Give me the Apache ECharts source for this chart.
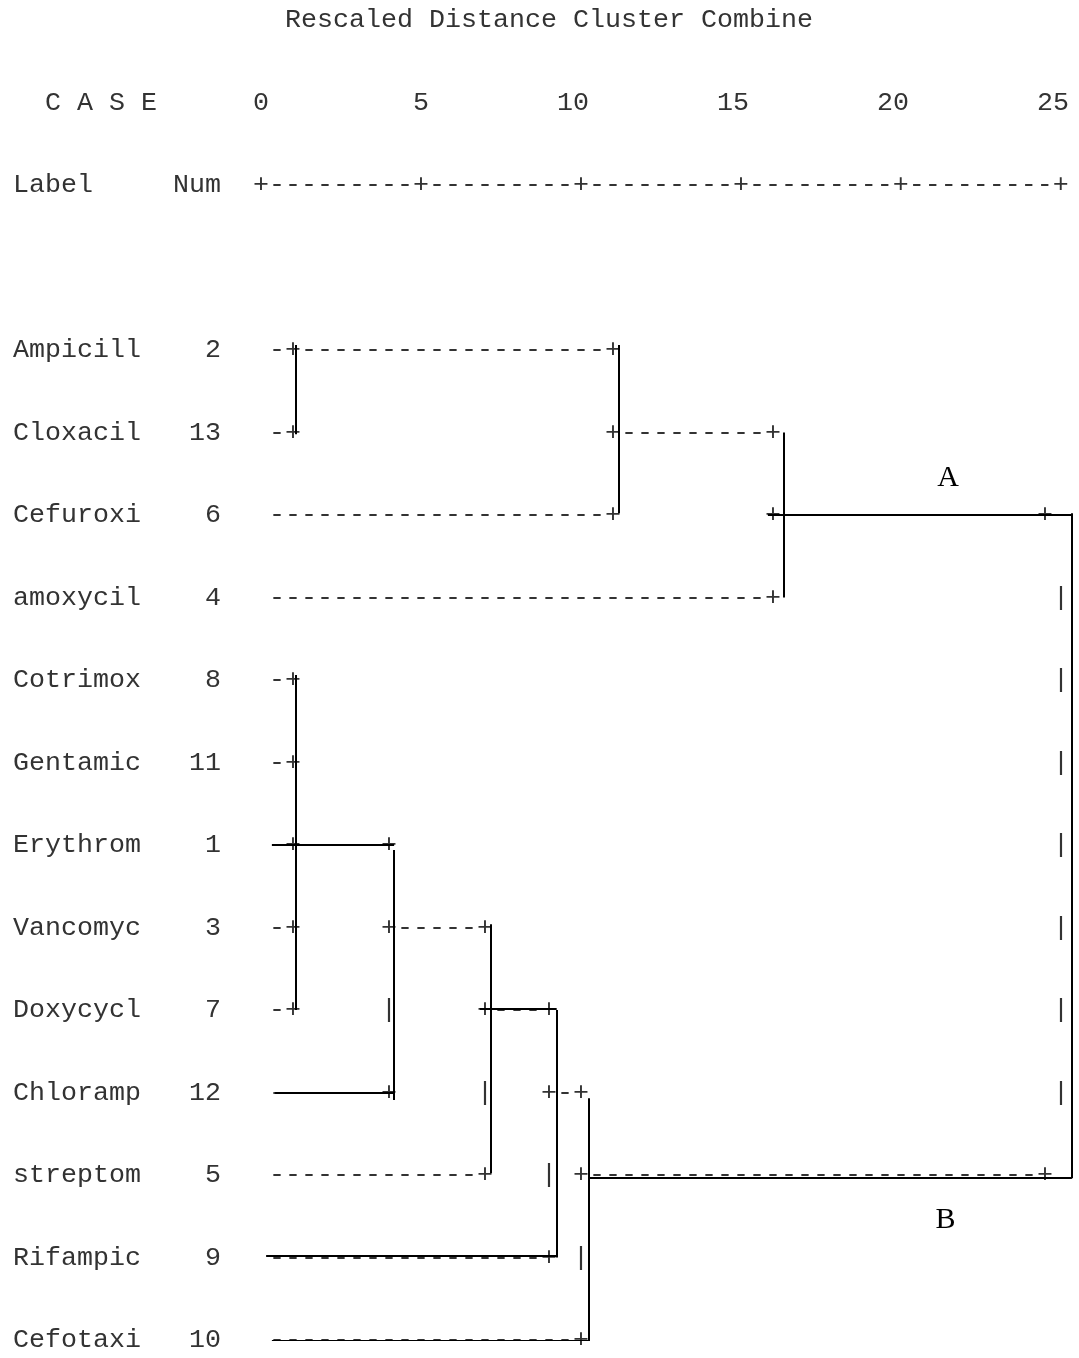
<!DOCTYPE html>
<html>
<head>
<meta charset="utf-8">
<script src="https://cdn.jsdelivr.net/npm/echarts@6/dist/echarts.min.js"></script>
<style>
  html, body { margin: 0; padding: 0; background: #fff; }
  #chart { width: 1079px; height: 1358px; }
</style>
</head>
<body>
<div id="chart"></div>
<script>
// ---- Dendrogram data (average linkage, rescaled distance 0-25) ----
const chartTitle = 'Rescaled Distance Cluster Combine';
const tickValues = [0, 5, 10, 15, 20, 25];
const tickLabels = ['0', '5', '10', '15', '20', '25'];

const caseLabels = ['Ampicill', 'Cloxacil', 'Cefuroxi', 'amoxycil', 'Cotrimox', 'Gentamic',
  'Erythrom', 'Vancomyc', 'Doxycycl', 'Chloramp', 'streptom', 'Rifampic', 'Cefotaxi'];
const caseNums = [2, 13, 6, 4, 8, 11, 1, 3, 7, 12, 5, 9, 10];

// Character tree of the SPSS listing, one string per case, starting one column right of distance 0
const treeRows = [
  '-+-------------------+',
  '-+                   +---------+',
  '---------------------+         +----------------+',
  '-------------------------------+                 |',
  '-+                                               |',
  '-+                                               |',
  '-+-----+                                         |',
  '-+     +-----+                                   |',
  '-+     |     +---+                               |',
  '-------+     |   +-+                             |',
  '-------------+   | +----------------------------+',
  '-----------------+ |',
  '-------------------+'
];

// Solid join lines: verticals [distance, fromCase, toCase]
const joinVerticals = [
  [1.10, -0.06, 1.02],
  [11.19, -0.06, 1.98],
  [16.34, 1.00, 3.00],
  [25.34, 1.98, 10.04],
  [1.10, 3.94, 8.00],
  [4.16, 6.06, 9.09],
  [7.19, 6.96, 9.98],
  [9.24, 8.00, 11.00],
  [10.25, 9.07, 12.08]
];
// horizontals [case, fromDistance, toDistance]
const joinHorizontals = [
  [2.00, 15.84, 25.34],
  [10.03, 10.25, 25.34],
  [6.00, 0.34, 4.16],
  [9.00, 0.44, 4.16],
  [7.98, 6.84, 9.24],
  [10.98, 0.16, 9.24],
  [12.01, 0.34, 10.25]
];

// Cluster tags: [text, distance, case]
const clusterTags = [
  ['A', 21.47, 1.55],
  ['B', 21.39, 10.55]
];

// ---- Listing layout: character columns and text lines ----
const ZERO_COL = 15;          // column holding distance 0
const TREE_COL = ZERO_COL + 1;
const HEADER_LINES = { title: -4, scale: -3, ruler: -2 };
const colToDist = c => (c - ZERO_COL - 0.5) / 2;   // left edge of a column, in distance units

const textItems = [];
function addLine(line, col, str) {
  // split into runs separated by two or more blanks
  const re = /\S+(?: \S+)*/g;
  let m;
  while ((m = re.exec(str)) !== null) {
    textItems.push({ line: line, col: col + m.index, text: m[0] });
  }
}

addLine(HEADER_LINES.title, 17, chartTitle);
addLine(HEADER_LINES.scale, 2, 'C A S E');
tickValues.forEach((v, i) => {
  const endCol = ZERO_COL + 2 * v;
  addLine(HEADER_LINES.scale, endCol - tickLabels[i].length + 1, tickLabels[i]);
});
addLine(HEADER_LINES.ruler, 0, 'Label');
addLine(HEADER_LINES.ruler, 10, 'Num');
let ruler = '+';
for (let i = 1; i < tickValues.length; i++) {
  ruler += '-'.repeat(2 * (tickValues[i] - tickValues[i - 1]) - 1) + '+';
}
addLine(HEADER_LINES.ruler, ZERO_COL, ruler);

caseLabels.forEach((name, i) => {
  addLine(i, 0, name);
  const num = String(caseNums[i]);
  addLine(i, 12 - num.length + 1, num);
  addLine(i, TREE_COL, treeRows[i]);
});

const MONO = '"Courier New", "Liberation Mono", monospace';

const chart = echarts.init(document.getElementById('chart'), null, { renderer: 'canvas' });
chart.setOption({
  backgroundColor: '#ffffff',
  animation: false,
  grid: { left: 5, right: 2, top: 20, bottom: 18 },
  xAxis: { type: 'value', min: -8, max: 25.5, show: false },
  yAxis: { type: 'value', min: -4, max: 12, inverse: true, show: false },
  series: [
    {
      type: 'custom',
      name: 'listing',
      silent: true,
      data: textItems.map(t => [colToDist(t.col), t.line]),
      renderItem: function (params, api) {
        const item = textItems[params.dataIndex];
        const p = api.coord([api.value(0), api.value(1)]);
        return {
          type: 'text',
          x: p[0],
          y: p[1],
          style: {
            text: item.text,
            fontFamily: MONO,
            fontSize: 26.67,
            fill: '#333333',
            align: 'left',
            verticalAlign: 'middle'
          }
        };
      }
    },
    {
      type: 'lines',
      name: 'joins',
      coordinateSystem: 'cartesian2d',
      silent: true,
      lineStyle: { color: '#000000', width: 2, opacity: 1, curveness: 0 },
      data: joinVerticals.map(d => ({ coords: [[d[0], d[1]], [d[0], d[2]]] }))
        .concat(joinHorizontals.map(d => ({ coords: [[d[1], d[0]], [d[2], d[0]]] })))
    },
    {
      type: 'custom',
      name: 'tags',
      silent: true,
      data: clusterTags.map(t => [t[1], t[2]]),
      renderItem: function (params, api) {
        const p = api.coord([api.value(0), api.value(1)]);
        return {
          type: 'text',
          x: p[0],
          y: p[1],
          style: {
            text: clusterTags[params.dataIndex][0],
            fontFamily: '"Liberation Serif", "Times New Roman", serif',
            fontSize: 30,
            fill: '#000000',
            align: 'center',
            verticalAlign: 'middle'
          }
        };
      }
    }
  ]
});
</script>
</body>
</html>
